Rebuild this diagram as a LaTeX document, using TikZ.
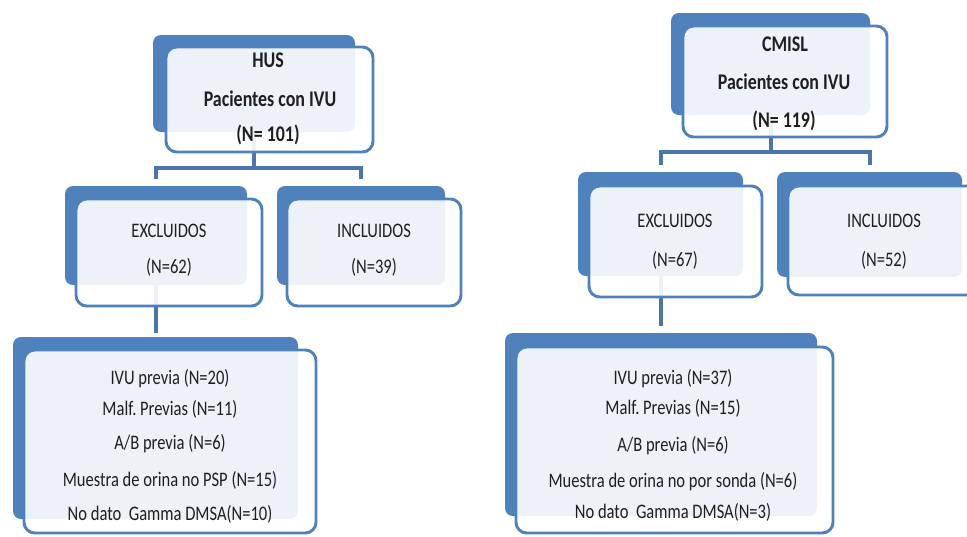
\documentclass[tikz,border=0pt]{standalone}
\usepackage{fontspec}
\setmainfont{Carlito}[FakeStretch=0.8]
\usetikzlibrary{fit}
\definecolor{boxblue}{HTML}{4F81BD}
\definecolor{lineblue}{HTML}{4A76AD}
\frenchspacing
\begin{document}
\begin{tikzpicture}[x=0.75pt,y=-0.75pt,
  backbox/.style={fill=boxblue, draw=none, rounded corners=6pt, inner sep=0pt},
  frontbox/.style={draw=boxblue, line width=2.2pt, fill=white, fill opacity=0.9, rounded corners=8pt, inner sep=0pt},
  conn/.style={draw=lineblue, line width=3pt},
  lbl/.style={text=black!88, font=\fontsize{15.5}{18}\selectfont, inner sep=0pt, text height=1.38ex, text depth=0pt, anchor=center},
  ttl/.style={text=black!88, font=\fontsize{16.8}{19}\selectfont\bfseries, inner sep=0pt, text height=1.38ex, text depth=0pt, anchor=center}]
\useasboundingbox (0,0) rectangle (967,536);
\clip (0,0) rectangle (967,536);
% back boxes
\node[backbox, fit={(153,35) (355,132)}] (husB) {};
\node[backbox, fit={(65,186) (247,285)}] (hexB) {};
\node[backbox, fit={(277,186) (445,285)}] (hinB) {};
\node[backbox, fit={(13,337) (298,519)}] (hlsB) {};
\node[backbox, fit={(671,13) (870,115)}] (cmB) {};
\node[backbox, fit={(578,172) (743,276)}] (cexB) {};
\node[backbox, fit={(777,172) (962,277)}] (cinB) {};
\node[backbox, fit={(505,333) (817,516)}] (clsB) {};
% connectors
\coordinate (hbar) at (0,168);
\coordinate (cbar) at (0,152);
\coordinate (hj) at (husB.south |- hbar);
\coordinate (cj) at (cmB.south |- cbar);
\draw[conn] (husB.south) -- (hj);
\draw[conn, shorten >=5pt] (hj) -| (hexB.north);
\draw[conn, shorten >=5pt] (hj) -| (hinB.north);
\draw[conn, shorten >=3pt] (hexB.south) -- (hexB.south |- hlsB.north);
\draw[conn] (cmB.south) -- (cj);
\draw[conn, shorten >=5pt] (cj) -| (cexB.north);
\draw[conn, shorten >=5pt] (cj) -| (cinB.north);
\draw[conn, shorten >=5pt] (cexB.south) -- (cexB.south |- clsB.north);
% front boxes
\node[frontbox, fit={(166,47) (373,152)}] (husF) {};
\node[frontbox, fit={(76,199) (262,306)}] (hexF) {};
\node[frontbox, fit={(287,199) (461,306)}] (hinF) {};
\node[frontbox, fit={(24,350) (316,533)}] (hlsF) {};
\node[frontbox, fit={(683,26) (887,137)}] (cmF) {};
\node[frontbox, fit={(589,186) (762,297)}] (cexF) {};
\node[frontbox, fit={(788,186) (995,295)}] (cinF) {};
\node[frontbox, fit={(516,347) (833,533)}] (clsF) {};
% texts HUS
\node[ttl] (t1) at (268,63) {HUS};
\node[ttl] (t2) at (270,102) {Pacientes con IVU};
\node[ttl] (t3) at (268,137) {(N= 101)};
\node[lbl] (t4) at (169,233) {EXCLUIDOS};
\node[lbl] (t5) at (169,269) {(N=62)};
\node[lbl] (t6) at (374,233) {INCLUIDOS};
\node[lbl] (t7) at (374,269) {(N=39)};
\node[lbl] (t8) at (170,380) {IVU previa (N=20)};
\node[lbl] (t9) at (170,411) {Malf. Previas (N=11)};
\node[lbl] (t10) at (170,445) {A/B previa (N=6)};
\node[lbl] (t11) at (170,482) {Muestra de orina no PSP (N=15)};
\node[lbl] (t12) at (170,516) {No dato~ Gamma DMSA(N=10)};
% texts CMISL
\node[ttl] (s1) at (785,47) {CMISL};
\node[ttl] (s2) at (784,85) {Pacientes con IVU};
\node[ttl] (s3) at (784,123) {(N= 119)};
\node[lbl] (s4) at (675,223) {EXCLUIDOS};
\node[lbl] (s5) at (675,262) {(N=67)};
\node[lbl] (s6) at (884,223) {INCLUIDOS};
\node[lbl] (s7) at (884,262) {(N=52)};
\node[lbl] (s8) at (673,380) {IVU previa (N=37)};
\node[lbl] (s9) at (673,410) {Malf. Previas (N=15)};
\node[lbl] (s10) at (673,447) {A/B previa (N=6)};
\node[lbl] (s11) at (673,483) {Muestra de orina no por sonda (N=6)};
\node[lbl] (s12) at (673,514) {No dato~ Gamma DMSA(N=3)};
\end{tikzpicture}
\end{document}
